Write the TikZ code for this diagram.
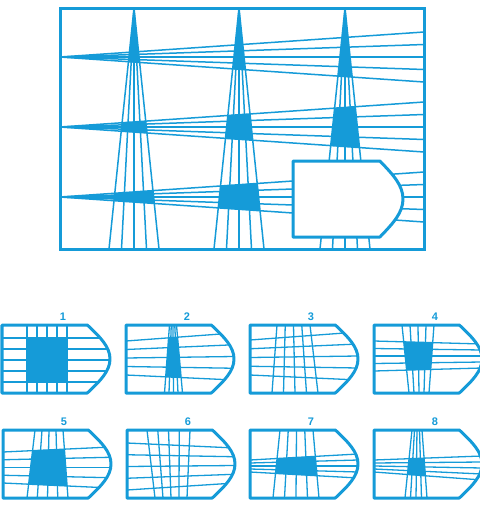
\documentclass[tikz,border=0pt]{standalone}
\usepackage{fontspec}
\setmainfont{Liberation Sans}
\usetikzlibrary{calc}
\definecolor{puzzleblue}{HTML}{159BD8}

% outline of the missing piece, width #1, height #2 (y grows downwards)
\newcommand{\pieceoutline}[2]{(0,0) -- ({0.79*#1},0) .. controls ({0.91*#1},{0.18*#2}) and (#1,{0.32*#2}) .. (#1,{0.5*#2}) .. controls (#1,{0.68*#2}) and ({0.91*#1},{0.82*#2}) .. ({0.79*#1},#2) -- (0,#2) -- cycle}

\tikzset{
  frame/.style={draw=puzzleblue,line width=3pt},
  fanline/.style={draw=puzzleblue,line width=1.5pt},
  piecebox/.style={draw=puzzleblue,line width=3pt,line join=round},
  optlabel/.style={text=puzzleblue,font=\bfseries\fontsize{11}{13}\selectfont,inner sep=0pt,anchor=south}
}

\begin{document}
\begin{tikzpicture}[x=1pt,y=-1pt]
  \useasboundingbox (0,0) rectangle (480,515);
  % crossings of the fans
  \foreach \cx in {134,239,345} {
    \begin{scope}
      \clip (\cx,8) -- (\cx-25,249) -- (\cx+25,249) -- cycle;
      \foreach \cy in {57,127,197}
        \fill[puzzleblue] (60,\cy) -- (424,\cy-25) -- (424,\cy+25) -- cycle;
      \fill[puzzleblue] (60,8) -- (424,8) -- (424,82) -- (60,57) -- cycle;
    \end{scope}
  }
  \foreach \cx in {134,239,345}
    \foreach \k in {-2,...,2}
      \draw[fanline] (\cx,8) -- ({\cx+12.5*\k},249);
  \foreach \cy in {57,127,197}
    \foreach \k in {-2,...,2}
      \draw[fanline] (60,\cy) -- (424,{\cy+12.5*\k});
  \draw[frame] (60,8) rectangle (424,249);
  \draw[piecebox,fill=white,shift={(293,161)}] \pieceoutline{110}{76};

  % answer pieces: number/left/top/vertical fan (top centre, spread, bottom centre, spread)/horizontal fan (left, spread, right, spread)/filled
  \foreach \n/\ox/\oy/\vtc/\vts/\vbc/\vbs/\hlc/\hls/\hrc/\hrs/\filled in {
      1/2/325/45/20/45/20/35/22/35/22/1,
      2/126/325/47/3.5/47.5/9/33/17/31.5/23.5/1,
      3/250/325/43.5/16.5/45/23/32.5/17.5/31/24/0,
      4/374/325/44/16/45/10/31/15/31/12/1,
      5/3/430/46/14/44.5/20.5/37.5/15.5/37.5/20.5/1,
      6/127/430/41.5/21.5/44/16/36.5/23.5/35.5/17.5/0,
      7/250/430/46.5/16.5/46/23/36/6/36/12/1,
      8/374/430/43/5/42/11/36/6/38/12/1} {
    \begin{scope}[shift={(\ox,\oy)}]
      \begin{scope}
        \clip \pieceoutline{108}{68};
        \ifnum\filled=1
          \begin{scope}
            \clip ({\vtc-\vts},-2) -- ({\vtc+\vts},-2) -- ({\vbc+\vbs},70) -- ({\vbc-\vbs},70) -- cycle;
            \fill[puzzleblue] (0,{\hlc-\hls}) -- (108,{\hrc-\hrs}) -- (108,{\hrc+\hrs}) -- (0,{\hlc+\hls}) -- cycle;
          \end{scope}
        \fi
        \foreach \k in {-2,...,2} {
          \draw[fanline,line width=1.3pt] ({\vtc+\k*\vts/2},0) -- ({\vbc+\k*\vbs/2},68);
          \draw[fanline,line width=1.3pt] (0,{\hlc+\k*\hls/2}) -- (108,{\hrc+\k*\hrs/2});
        }
      \end{scope}
      \draw[piecebox] \pieceoutline{108}{68};
      \node[optlabel] (opt\n) at (61,-4) {\n};
    \end{scope}
  }
\end{tikzpicture}
\end{document}
